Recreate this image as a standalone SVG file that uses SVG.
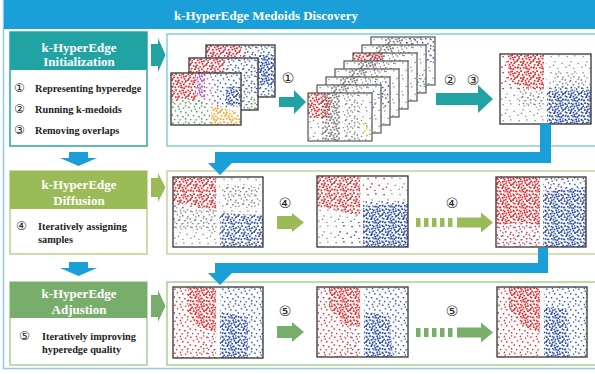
<svg xmlns="http://www.w3.org/2000/svg" xmlns:xlink="http://www.w3.org/1999/xlink" width="595" height="374" viewBox="0 0 595 374">
<style>
.hd{font-family:"Liberation Serif","Times New Roman",serif;font-weight:bold;font-size:13px;fill:#fff;text-anchor:middle}
.bd{font-family:"Liberation Serif","Times New Roman",serif;font-weight:bold;font-size:10.3px;fill:#222}
.cn{font-family:"DejaVu Sans","Noto Sans CJK SC",sans-serif;font-size:12px;fill:#222}
.cl{font-family:"DejaVu Sans","Noto Sans CJK SC",sans-serif;font-size:14px;fill:#222;text-anchor:middle}
.fr{fill:none;stroke:#333;stroke-width:1.3}
.fg{fill:none;stroke:#555;stroke-width:1.2}
.wb{fill:#fff}
.gap{fill:#fff}
</style>
<defs>
<path id="dD" d="M0.5 0.8h1.7v1.7h-1.7zM4.2 0.2h1.7v1.7h-1.7zM7.9 1.6h1.7v1.7h-1.7zM11.3 0.5h1.7v1.7h-1.7zM14.1 2.2h1.7v1.7h-1.7zM2.3 3.4h1.7v1.7h-1.7zM5.8 4.1h1.7v1.7h-1.7zM9.6 3.7h1.7v1.7h-1.7zM12.7 5h1.7v1.7h-1.7zM0.2 6.3h1.7v1.7h-1.7zM3.9 7.2h1.7v1.7h-1.7zM7.1 6.6h1.7v1.7h-1.7zM10.4 7.9h1.7v1.7h-1.7zM14.2 7.3h1.7v1.7h-1.7zM1.8 9.9h1.7v1.7h-1.7zM5.3 10.4h1.7v1.7h-1.7zM8.6 9.8h1.7v1.7h-1.7zM12 10.6h1.7v1.7h-1.7zM14.2 12.6h1.7v1.7h-1.7zM0.7 13.1h1.7v1.7h-1.7zM3.5 13.6h1.7v1.7h-1.7zM6.9 12.9h1.7v1.7h-1.7zM10.2 13.8h1.7v1.7h-1.7zM12.4 14.2h1.7v1.7h-1.7zM6.2 8.5h1.7v1.7h-1.7zM1.1 4.9h1.7v1.7h-1.7zM9.3 11.9h1.7v1.7h-1.7zM11.9 2.9h1.7v1.7h-1.7z"/>
<path id="dM" d="M1.2 1.5h1.4v1.4h-1.4zM6.7 0.8h1.4v1.4h-1.4zM11.9 2.4h1.4v1.4h-1.4zM3.8 5.2h1.4v1.4h-1.4zM9.1 6h1.4v1.4h-1.4zM14.2 6.8h1.4v1.4h-1.4zM0.6 9.3h1.4v1.4h-1.4zM5.9 10.1h1.4v1.4h-1.4zM11.2 11h1.4v1.4h-1.4zM2.9 13.9h1.4v1.4h-1.4zM8.4 14.2h1.4v1.4h-1.4zM14 13h1.4v1.4h-1.4zM7.5 3.4h1.4v1.4h-1.4zM13.9 0.2h1.4v1.4h-1.4z"/>
<path id="dS" d="M2.5 2.1h1.2v1.2h-1.2zM10.3 1.2h1.2v1.2h-1.2zM6.4 7.3h1.2v1.2h-1.2zM13.6 8.8h1.2v1.2h-1.2zM1.4 12.6h1.2v1.2h-1.2zM9.2 13.9h1.2v1.2h-1.2zM4.9 10.8h1.2v1.2h-1.2z"/>
<pattern id="bg" width="3" height="3" patternUnits="userSpaceOnUse"><rect x="1" y="1" width="0.8" height="0.8" fill="#e2e2e2"/></pattern>
<pattern id="rD" width="16" height="16" patternUnits="userSpaceOnUse"><use href="#dD" fill="#e8262a"/></pattern>
<pattern id="rM" width="16" height="16" patternUnits="userSpaceOnUse"><use href="#dM" fill="#e8262a"/></pattern>
<pattern id="rS" width="16" height="16" patternUnits="userSpaceOnUse"><use href="#dS" fill="#e8262a"/></pattern>
<pattern id="bD" width="16" height="16" patternUnits="userSpaceOnUse"><use href="#dD" fill="#2e4ea6"/></pattern>
<pattern id="bM" width="16" height="16" patternUnits="userSpaceOnUse"><use href="#dM" fill="#2e4ea6"/></pattern>
<pattern id="bS" width="16" height="16" patternUnits="userSpaceOnUse"><use href="#dS" fill="#2e4ea6"/></pattern>
<pattern id="gD" width="16" height="16" patternUnits="userSpaceOnUse"><use href="#dD" fill="#7a7a7a"/></pattern>
<pattern id="gM" width="16" height="16" patternUnits="userSpaceOnUse"><use href="#dM" fill="#7a7a7a"/></pattern>
<pattern id="gS" width="16" height="16" patternUnits="userSpaceOnUse"><use href="#dS" fill="#7a7a7a"/></pattern>
<pattern id="nM" width="16" height="16" patternUnits="userSpaceOnUse"><use href="#dM" fill="#2e9a44"/></pattern>
<pattern id="oD" width="16" height="16" patternUnits="userSpaceOnUse"><use href="#dD" fill="#f5a21e"/></pattern>
<pattern id="oM" width="16" height="16" patternUnits="userSpaceOnUse"><use href="#dM" fill="#f5a21e"/></pattern>
<pattern id="pM" width="16" height="16" patternUnits="userSpaceOnUse"><use href="#dM" fill="#b452b4"/></pattern>
<pattern id="pD" width="16" height="16" patternUnits="userSpaceOnUse"><use href="#dD" fill="#b452b4"/></pattern>
<g id="grayframe">
<rect width="64" height="48" class="wb"/>
<rect width="64" height="48" fill="url(#bg)"/>
<rect width="64" height="48" fill="url(#gS)"/>
<rect x="14" width="18" height="48" fill="url(#gD)"/>
<rect x="36" width="16" height="48" fill="url(#gM)"/>
<rect x="32.5" width="2" height="48" class="gap"/>
</g>
</defs>

<rect x="3.5" y="1" width="610" height="367.5" fill="none" stroke="#8ccbea" stroke-width="1.5"/>
<g id="title">
<rect x="4" y="0" width="591" height="29" fill="#1b9fd8"/>
<text x="266" y="20" class="hd">k-HyperEdge Medoids Discovery</text>
</g>

<g id="box-init">
<rect x="10" y="32" width="137" height="114" fill="#fff" stroke="#2aa6a6" stroke-width="1.5"/>
<rect x="10" y="32" width="137" height="38" fill="#22a3a3"/>
<text x="79" y="52" class="hd">k-HyperEdge</text>
<text x="79" y="66" class="hd">Initialization</text>
<text x="14" y="92" class="cn">①</text><text x="35" y="92" class="bd">Representing hyperedge</text>
<text x="14" y="113" class="cn">②</text><text x="35" y="113" class="bd">Running k-medoids</text>
<text x="14" y="134" class="cn">③</text><text x="35" y="134" class="bd">Removing overlaps</text>
</g>

<g id="panel-init">
<rect x="167" y="34" width="440" height="112" fill="#fff" stroke="#86cfcf" stroke-width="1.5"/>
<g transform="translate(206 45)">
<rect width="69" height="52" class="wb"/><rect width="69" height="52" fill="url(#bg)"/>
<rect width="69" height="52" fill="url(#bS)"/>
<polygon points="0,0 35,0 35,15 0,18" fill="url(#rD)"/>
<rect x="35" width="15" height="12" fill="url(#rS)"/>
<rect x="38" width="31" height="52" fill="url(#bM)"/>
<rect x="52" y="10" width="17" height="30" fill="url(#bD)"/>
<rect width="69" height="52" class="fr"/>
</g>
<g transform="translate(189 58)">
<rect width="69" height="52" class="wb"/><rect width="69" height="52" fill="url(#bg)"/>
<rect width="69" height="52" fill="url(#bS)"/>
<polygon points="0,0 36,0 36,14 0,17" fill="url(#rD)"/>
<rect x="38" width="31" height="35" fill="url(#bM)"/>
<rect x="50" y="35" width="19" height="17" fill="url(#nM)"/>
<rect width="69" height="52" class="fr"/>
</g>
<g transform="translate(171 73)">
<rect width="70" height="52" class="wb"/><rect width="70" height="52" fill="url(#bg)"/>
<rect width="25" height="30" fill="url(#rS)"/>
<polygon points="0,0 25,0 25,27 0,25" fill="url(#rD)"/>
<rect x="24" width="18" height="32" fill="url(#pM)"/>
<rect x="26" width="8" height="24" fill="url(#pD)"/>
<rect x="42" width="28" height="34" fill="url(#bM)"/>
<rect x="55" y="14" width="15" height="19" fill="url(#bD)"/>
<polygon points="0,26 20,23 38,30 40,52 0,52" fill="url(#nM)"/>
<polygon points="40,33 60,37 70,42 70,52 40,52" fill="url(#oD)"/>
<rect width="70" height="52" class="fr"/>
</g>
<text x="288" y="83" class="cl">①</text>
<g>
<use href="#grayframe" x="371" y="37"/><rect x="403" y="37" width="32" height="25" fill="url(#bM)"/><rect x="371" y="37" width="64" height="48" class="fg"/>
<use href="#grayframe" x="362" y="45"/><rect x="414" y="73" width="12" height="17" fill="url(#nM)"/><rect x="362" y="45" width="64" height="48" class="fg"/>
<use href="#grayframe" x="353" y="53"/><rect x="353" y="53" width="30" height="8" fill="url(#rD)"/><rect x="353" y="53" width="64" height="48" class="fg"/>
<use href="#grayframe" x="344" y="61"/><rect x="365" y="61" width="15" height="8" fill="url(#pM)"/><rect x="344" y="61" width="64" height="48" class="fg"/>
<use href="#grayframe" x="335" y="69"/><rect x="335" y="69" width="64" height="48" class="fg"/>
<use href="#grayframe" x="326" y="77"/><rect x="370" y="81" width="20" height="26" fill="url(#bM)"/><rect x="326" y="77" width="64" height="48" class="fg"/>
<use href="#grayframe" x="317" y="85"/><rect x="367" y="90" width="14" height="20" fill="url(#bS)"/><rect x="317" y="85" width="64" height="48" class="fg"/>
<use href="#grayframe" x="308" y="93"/><rect x="308" y="93" width="22" height="25" fill="url(#rD)"/><rect x="363" y="123" width="9" height="14" fill="url(#oM)"/><rect x="308" y="93" width="64" height="48" class="fg"/>
</g>
<text x="450" y="85" class="cl">②</text><text x="473" y="85" class="cl">③</text>
<g transform="translate(500 54)">
<rect width="91" height="70" class="wb"/><rect width="91" height="70" fill="url(#bg)"/>
<rect width="91" height="70" fill="url(#gS)"/>
<polygon points="15,30 44,32 44,55 20,52" fill="url(#gM)"/>
<polygon points="55,18 85,20 85,36 55,36" fill="url(#gM)"/>
<rect width="44" height="36" fill="url(#rS)"/>
<polygon points="8,0 44,0 44,36 30,34 15,30 8,25" fill="url(#rD)"/>
<rect x="47" y="32" width="44" height="38" fill="url(#bM)"/>
<polygon points="47,37 91,36 91,70 47,70" fill="url(#bD)"/>
<rect x="44.5" width="2" height="70" class="gap"/>
<rect width="91" height="70" class="fr"/>
</g>
</g>

<g id="box-diff">
<rect x="10" y="171" width="137" height="83" fill="#fff" stroke="#b9d18c" stroke-width="1.5"/>
<rect x="10" y="171" width="137" height="38" fill="#9bbb59"/>
<text x="79" y="189" class="hd">k-HyperEdge</text>
<text x="79" y="205" class="hd">Diffusion</text>
<text x="16" y="230" class="cn">④</text><text x="38" y="230" class="bd">Iteratively assigning</text>
<text x="38" y="243" class="bd">samples</text>
</g>

<g id="panel-diff">
<rect x="167" y="171" width="440" height="83" fill="#fff" stroke="#c2d69b" stroke-width="1.5"/>
<g transform="translate(173 177)">
<rect width="90" height="70" class="wb"/><rect width="90" height="70" fill="url(#bg)"/>
<rect width="90" height="70" fill="url(#gS)"/>
<polygon points="0,30 43,34 43,55 0,52" fill="url(#gM)"/>
<polygon points="50,8 85,10 85,30 50,30" fill="url(#gM)"/>
<rect width="43" height="32" fill="url(#rS)"/>
<polygon points="0,0 43,0 43,35 32,32 20,28 0,26" fill="url(#rD)"/>
<polygon points="47,36 90,38 90,70 47,70" fill="url(#bD)"/>
<rect x="44" width="2" height="70" class="gap"/>
<rect width="90" height="70" class="fr"/>
</g>
<text x="285" y="208" class="cl">④</text>
<g transform="translate(317 176)">
<rect width="91" height="71" class="wb"/><rect width="91" height="71" fill="url(#bg)"/>
<rect width="91" height="71" fill="url(#gS)"/>
<polygon points="0,0 43,0 43,40 25,36 0,30" fill="url(#rD)"/>
<rect x="46" width="24" height="20" fill="url(#rS)"/>
<rect x="22" y="45" width="21" height="26" fill="url(#bS)"/>
<rect x="46" y="25" width="45" height="46" fill="url(#bM)"/>
<polygon points="46,30 91,28 91,71 46,71" fill="url(#bD)"/>
<rect x="44" width="2" height="71" class="gap"/>
<rect width="91" height="71" class="fr"/>
</g>
<text x="452" y="208" class="cl">④</text>
<g transform="translate(496 177)">
<rect width="90" height="70" class="wb"/><rect width="90" height="70" fill="url(#bg)"/>
<rect width="44" height="70" fill="url(#rM)"/>
<polygon points="0,0 44,0 44,50 30,45 0,48" fill="url(#rD)"/>
<rect y="45" width="44" height="25" fill="url(#bS)"/>
<rect x="47" width="43" height="70" fill="url(#bM)"/>
<rect x="47" width="23" height="20" fill="url(#rS)"/>
<polygon points="47,15 90,10 90,70 47,70" fill="url(#bD)"/>
<rect x="44.5" width="2" height="70" class="gap"/>
<rect width="90" height="70" class="fr"/>
</g>
</g>

<g id="box-adj">
<rect x="10" y="282" width="137" height="83" fill="#fff" stroke="#a9cf95" stroke-width="1.5"/>
<rect x="10" y="282" width="137" height="36" fill="#79ad6c"/>
<text x="79" y="298" class="hd">k-HyperEdge</text>
<text x="79" y="314" class="hd">Adjustion</text>
<text x="19" y="340" class="cn">⑤</text><text x="42" y="340" class="bd">Iteratively improving</text>
<text x="42" y="353" class="bd">hyperedge quality</text>
</g>

<g id="panel-adj">
<rect x="167" y="282" width="440" height="83" fill="#fff" stroke="#a9d08e" stroke-width="1.5"/>
<g transform="translate(173 287)">
<rect width="90" height="71" class="wb"/><rect width="90" height="71" fill="url(#bg)"/>
<rect width="43" height="71" fill="url(#rM)"/>
<polygon points="15,0 43,0 43,45 25,40 15,25" fill="url(#rD)"/>
<rect x="25" y="50" width="18" height="21" fill="url(#bS)"/>
<rect x="47" width="43" height="71" fill="url(#bM)"/>
<polygon points="47,25 75,30 75,71 47,71" fill="url(#bD)"/>
<rect x="44" width="2" height="71" class="gap"/>
<rect width="90" height="71" class="fr"/>
</g>
<text x="285" y="316" class="cl">⑤</text>
<g transform="translate(317 287)">
<rect width="91" height="70" class="wb"/><rect width="91" height="70" fill="url(#bg)"/>
<rect width="43" height="70" fill="url(#rM)"/>
<polygon points="12,0 43,0 43,40 28,38 12,20" fill="url(#rD)"/>
<rect x="27" y="45" width="16" height="25" fill="url(#bS)"/>
<rect x="47" width="44" height="70" fill="url(#bM)"/>
<polygon points="47,25 72,28 76,70 47,70" fill="url(#bD)"/>
<rect x="44" width="2" height="70" class="gap"/>
<rect width="91" height="70" class="fr"/>
</g>
<text x="452" y="316" class="cl">⑤</text>
<g transform="translate(497 287)">
<rect width="90" height="70" class="wb"/><rect width="90" height="70" fill="url(#bg)"/>
<rect width="43" height="70" fill="url(#rM)"/>
<polygon points="12,0 43,0 43,45 28,40 12,22" fill="url(#rD)"/>
<rect x="47" width="43" height="70" fill="url(#bM)"/>
<polygon points="47,20 70,22 72,70 47,70" fill="url(#bD)"/>
<rect x="44" width="2" height="70" class="gap"/>
<rect width="90" height="70" class="fr"/>
</g>
</g>

<g id="connectors">
<path d="M540 124H551V163H232L220 175L208 163H215V152H540Z" fill="#1b9fd8"/>
<path d="M538 248H548V273H232L220 285L208 273H215V263H538Z" fill="#1b9fd8"/>
<path d="M69 152H88V158H97L78.5 166L60 158H69Z" fill="#1b9fd8"/>
<path d="M69 262H88V268H97L78.5 276L60 268H69Z" fill="#1b9fd8"/>
<path d="M151 44H158V38L165.5 55L158 72V66H151Z" fill="#22a3a3"/>
<path d="M151 178H158V173L165.5 187.5L158 202V197H151Z" fill="#9bbb59"/>
<path d="M151 295H158V290L165.5 306L158 322V317H151Z" fill="#79ad6c"/>
<path d="M279 97H294V90L306 102L294 114V107H279Z" fill="#22a3a3"/>
<path d="M436 93H478V85L493 99L478 113V105H436Z" fill="#22a3a3"/>
<path d="M277 216H292V213L304 222.5L292 232V229H277Z" fill="#9bbb59"/>
<g fill="#9bbb59">
<rect x="416" y="218" width="4.5" height="9"/><rect x="424" y="218" width="4.5" height="9"/><rect x="432" y="218" width="4.5" height="9"/><rect x="440" y="218" width="4.5" height="9"/><rect x="448" y="218" width="4.5" height="9"/>
<path d="M457 217.5H481V212.5L493 222.5L481 232.5V227.5H457Z"/>
</g>
<path d="M277 326H292V322L304 332L292 342V338H277Z" fill="#79ad6c"/>
<g fill="#79ad6c">
<rect x="416" y="328" width="4.5" height="9"/><rect x="424" y="328" width="4.5" height="9"/><rect x="432" y="328" width="4.5" height="9"/><rect x="440" y="328" width="4.5" height="9"/><rect x="448" y="328" width="4.5" height="9"/>
<path d="M457 327.5H481V322.5L493 332.5L481 342.5V337.5H457Z"/>
</g>
</g>
</svg>
